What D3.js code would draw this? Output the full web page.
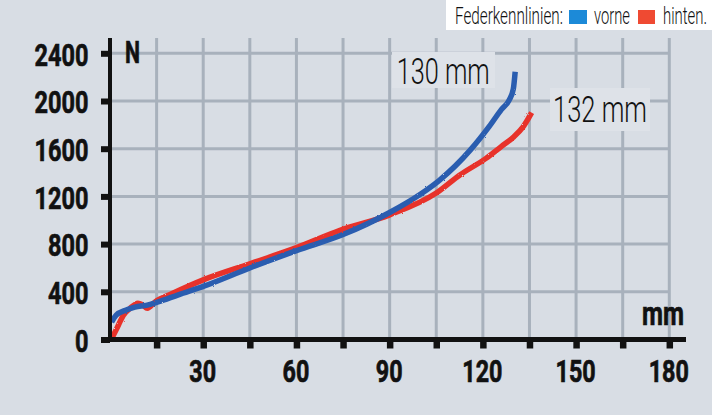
<!DOCTYPE html>
<html><head><meta charset="utf-8">
<script src="https://cdn.jsdelivr.net/npm/d3@7"></script>
<style>html,body{margin:0;padding:0;background:#d8dde4;} svg{display:block}</style>
</head><body><svg id="c" width="712" height="415"></svg>
<script>
// ---- data ----
const xGridValues = [15,30,45,60,75,90,105,120,135,150,165,180];
const xTickLabels = [30,60,90,120,150,180];
const yTickValues = [0,400,800,1200,1600,2000,2400];
const vorneMm = [0.5, 2, 5, 8, 12, 15.5, 22, 30, 45, 60, 75, 90, 100, 106, 116, 122, 126, 128.5, 129.8, 130.4];
const vorneN  = [145, 205, 246, 272, 288, 315, 375, 445, 600, 745, 880, 1065, 1220, 1335, 1590, 1785, 1930, 2010, 2100, 2245];
const hintenMm = [0.8, 2.7, 4.3, 6.4, 9, 10.5, 12, 14.5, 20, 30, 45, 60, 74, 90, 105, 112.6, 121, 126, 130, 133, 135.7];
const hintenN  = [20, 120, 204, 260, 305, 290, 262, 315, 385, 500, 635, 770, 915, 1045, 1228, 1380, 1519, 1620, 1701, 1785, 1902];
const legendTitle = "Federkennlinien:";
const legendNames = ["vorne", "hinten."];
const curveLabels = ["130 mm", "132 mm"];
const yUnit = "N", xUnit = "mm";

// ---- drawing ----
const svg = d3.select("#c");
const x = d3.scaleLinear().domain([0,180]).range([110,669.3]);
const y = d3.scaleLinear().domain([0,2400]).range([339.5,53.3]);
const FONT = "Roboto, 'Liberation Sans', 'DejaVu Sans', sans-serif";
const INK = "#111";

// text helper: squeeze text horizontally to a target width with a transform
function fitText(parent, str, px, py, width, size, weight, anchor, bold) {
  const t = parent.append("text").text(str).attr("fill",INK).attr("text-anchor","start")
    .attr("font-family",FONT).attr("font-weight",weight).attr("font-size",size);
  if (bold) t.attr("stroke",INK).attr("stroke-width",0.7);
  const len = t.node().getComputedTextLength();
  const s = width / len;
  let x0 = px;
  if (anchor === "end") x0 = px - width;
  if (anchor === "middle") x0 = px - width/2;
  t.attr("transform",`translate(${x0},${py}) scale(${s},1)`);
  return t;
}

const defs = svg.append("defs");
const f = defs.append("filter").attr("id","rough").attr("x","-5%").attr("y","-5%").attr("width","110%").attr("height","110%");
f.append("feTurbulence").attr("type","fractalNoise").attr("baseFrequency",0.9).attr("numOctaves",1).attr("seed",4).attr("result","n");
f.append("feDisplacementMap").attr("in","SourceGraphic").attr("in2","n").attr("scale",2.2);

svg.append("rect").attr("width",712).attr("height",415).attr("fill","#d8dde4");

// grid
const grid = svg.append("g").attr("stroke","#a8b1bc").attr("stroke-width",3);
grid.selectAll("line.v").data(xGridValues).join("line").attr("class","v")
  .attr("x1",d=>x(d)).attr("x2",d=>x(d)).attr("y1",38).attr("y2",y(0));
grid.selectAll("line.h").data(yTickValues.filter(d=>d>0)).join("line").attr("class","h")
  .attr("x1",x(0)).attr("x2",x(180)).attr("y1",d=>y(d)).attr("y2",d=>y(d));

// label boxes (cover grid)
svg.append("rect").attr("x",392).attr("y",52).attr("width",103).attr("height",36).attr("fill","#dee2e8");
svg.append("rect").attr("x",550).attr("y",88).attr("width",100).attr("height",43).attr("fill","#dee2e8");

// curves
const line = d3.line().x(d=>x(d[0])).y(d=>y(d[1])).curve(d3.curveMonotoneX);
const hinten = hintenMm.map((m,i)=>[m,hintenN[i]]);
const vorne = vorneMm.map((m,i)=>[m,vorneN[i]]);
svg.append("path").datum(hinten).attr("d",line).attr("fill","none")
  .attr("stroke","#e8322a").attr("stroke-width",5.5).attr("filter","url(#rough)");
svg.append("path").datum(vorne).attr("d",line).attr("fill","none")
  .attr("stroke","#2a5db0").attr("stroke-width",5.5).attr("filter","url(#rough)");

// x axis
const xAxis = svg.append("g").attr("transform",`translate(0,${y(0)})`)
  .call(d3.axisBottom(x).tickValues(xGridValues).tickSizeInner(9).tickSizeOuter(0).tickFormat(""));
xAxis.select(".domain").remove();
xAxis.selectAll(".tick line").attr("stroke",INK).attr("stroke-width",6.5);
xAxis.selectAll(".tick").each(function(d){
  d3.select(this).select("text").remove();
  if (!xTickLabels.includes(d)) return;
  fitText(d3.select(this), String(d), -1, 42.2, String(d).length*13.4, 31, 700, "middle", true);
});
svg.append("line").attr("x1",108).attr("x2",686).attr("y1",y(0)).attr("y2",y(0))
  .attr("stroke",INK).attr("stroke-width",5);

// y axis
const yAxis = svg.append("g").attr("transform",`translate(${x(0)},0)`)
  .call(d3.axisLeft(y).tickValues(yTickValues).tickSizeInner(9).tickSizeOuter(0).tickFormat(""));
yAxis.select(".domain").remove();
yAxis.selectAll(".tick line").attr("stroke",INK).attr("stroke-width",6);
yAxis.selectAll(".tick").each(function(d){
  d3.select(this).select("text").remove();
  fitText(d3.select(this), String(d), -21.5, 11.7, String(d).length*13.5, 32, 700, "end", true);
});
svg.append("line").attr("x1",x(0)).attr("x2",x(0)).attr("y1",38).attr("y2",y(0)+2.5)
  .attr("stroke",INK).attr("stroke-width",4);

// units
fitText(svg, yUnit, 125, 63.3, 15, 32, 700, "start", true);
fitText(svg, xUnit, 642, 325, 42, 34, 700, "start", true);

// curve labels
fitText(svg, curveLabels[0], 396.7, 83.5, 93, 37, 300, "start", false);
fitText(svg, curveLabels[1], 553, 122.3, 94, 37, 300, "start", false);

// legend
svg.append("rect").attr("x",446).attr("y",0).attr("width",266).attr("height",30).attr("fill","#fff");
fitText(svg, legendTitle, 455, 24, 108, 23, 300, "start", false);
const legendItems = [
  {name:legendNames[0], color:"#1c8ad8", sx:569, sw:18, tx:594, tw:36},
  {name:legendNames[1], color:"#ef4a32", sx:638, sw:17, tx:663, tw:44}
];
legendItems.forEach(it=>{
  svg.append("rect").attr("x",it.sx).attr("y",10).attr("width",it.sw).attr("height",14).attr("fill",it.color);
  fitText(svg, it.name, it.tx, 24, it.tw, 23, 300, "start", false);
});
</script>
</body></html>
